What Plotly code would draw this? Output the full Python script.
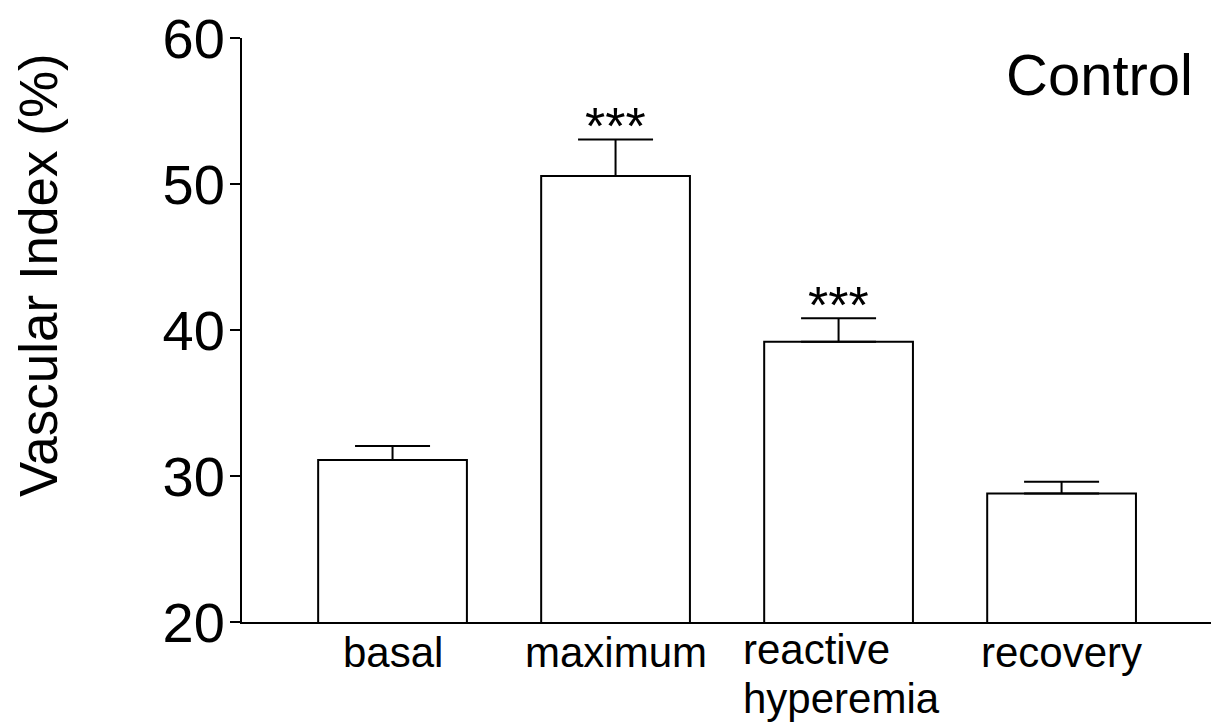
import plotly.graph_objects as go

# Vascular index per phase (mean ± SEM)
categories = ["basal", "maximum", "reactive hyperemia", "recovery"]
tick_lines = [["basal"], ["maximum"], ["reactive", "hyperemia"], ["recovery"]]
means = [31.1, 50.55, 39.2, 28.8]
sem = [0.95, 2.5, 1.6, 0.8]
significance = ["", "***", "***", ""]
y_ticks = [20, 30, 40, 50, 60]
panel_label = "Control"
y_title = "Vascular Index (%)"

FONT = "Liberation Sans, Arial, Helvetica, sans-serif"

fig = go.Figure(
    go.Bar(
        x=categories,
        y=means,
        width=0.667,
        marker=dict(color="white", line=dict(color="black", width=2)),
        error_y=dict(
            type="data",
            symmetric=False,
            array=sem,
            arrayminus=[0] * len(sem),
            color="black",
            thickness=2,
            width=37.5,
        ),
        hoverinfo="skip",
    )
)

annotations = []

# category labels under the x axis (multi-line labels are left aligned, tight leading)
for cat, lines in zip(categories, tick_lines):
    multi = len(lines) > 1
    for i, line in enumerate(lines):
        annotations.append(dict(
            x=cat, xref="x", y=0, yref="paper",
            text=line, showarrow=False,
            xanchor="left" if multi else "center",
            xshift=-97 if multi else 0,
            yanchor="top",
            yshift=(-3 - 48.5 * i) if multi else -5,
            borderpad=0 if multi else 1,
            font=dict(family=FONT, size=42, color="black"),
        ))

# significance markers above the error bars
for cat, m, e, s in zip(categories, means, sem, significance):
    if s:
        annotations.append(dict(
            x=cat, xref="x", y=m + e, yref="y",
            text=s, showarrow=False,
            xanchor="center", yanchor="bottom", yshift=-18,
            font=dict(family=FONT, size=52, color="black"),
        ))

# panel label
annotations.append(dict(
    x=1, xref="paper", y=1, yref="paper",
    text=panel_label, showarrow=False,
    xanchor="right", yanchor="top", xshift=-16, yshift=-2,
    font=dict(family=FONT, size=58, color="black"),
))

# y-axis title
annotations.append(dict(
    x=0, xref="paper", y=0.594, yref="paper",
    text=y_title, showarrow=False, textangle=-90,
    xanchor="center", yanchor="middle", xshift=-204,
    font=dict(family=FONT, size=53, color="black"),
))

fig.update_layout(
    width=1211,
    height=722,
    margin=dict(l=242, r=0, t=38, b=100),
    paper_bgcolor="white",
    plot_bgcolor="white",
    showlegend=False,
    annotations=annotations,
    xaxis=dict(
        type="category",
        range=[-0.675, 3.67],
        showline=True, linecolor="black", linewidth=2,
        showgrid=False, zeroline=False,
        ticks="", showticklabels=False,
        fixedrange=True,
    ),
    yaxis=dict(
        range=[20, 60],
        tickvals=y_ticks,
        ticks="outside", ticklen=10, tickwidth=2, tickcolor="black",
        ticklabelstandoff=-6,
        showline=True, linecolor="black", linewidth=2,
        showgrid=False, zeroline=False,
        tickfont=dict(family=FONT, size=56, color="black"),
        fixedrange=True,
    ),
)

fig.write_html("out.html", config={"displayModeBar": False})
